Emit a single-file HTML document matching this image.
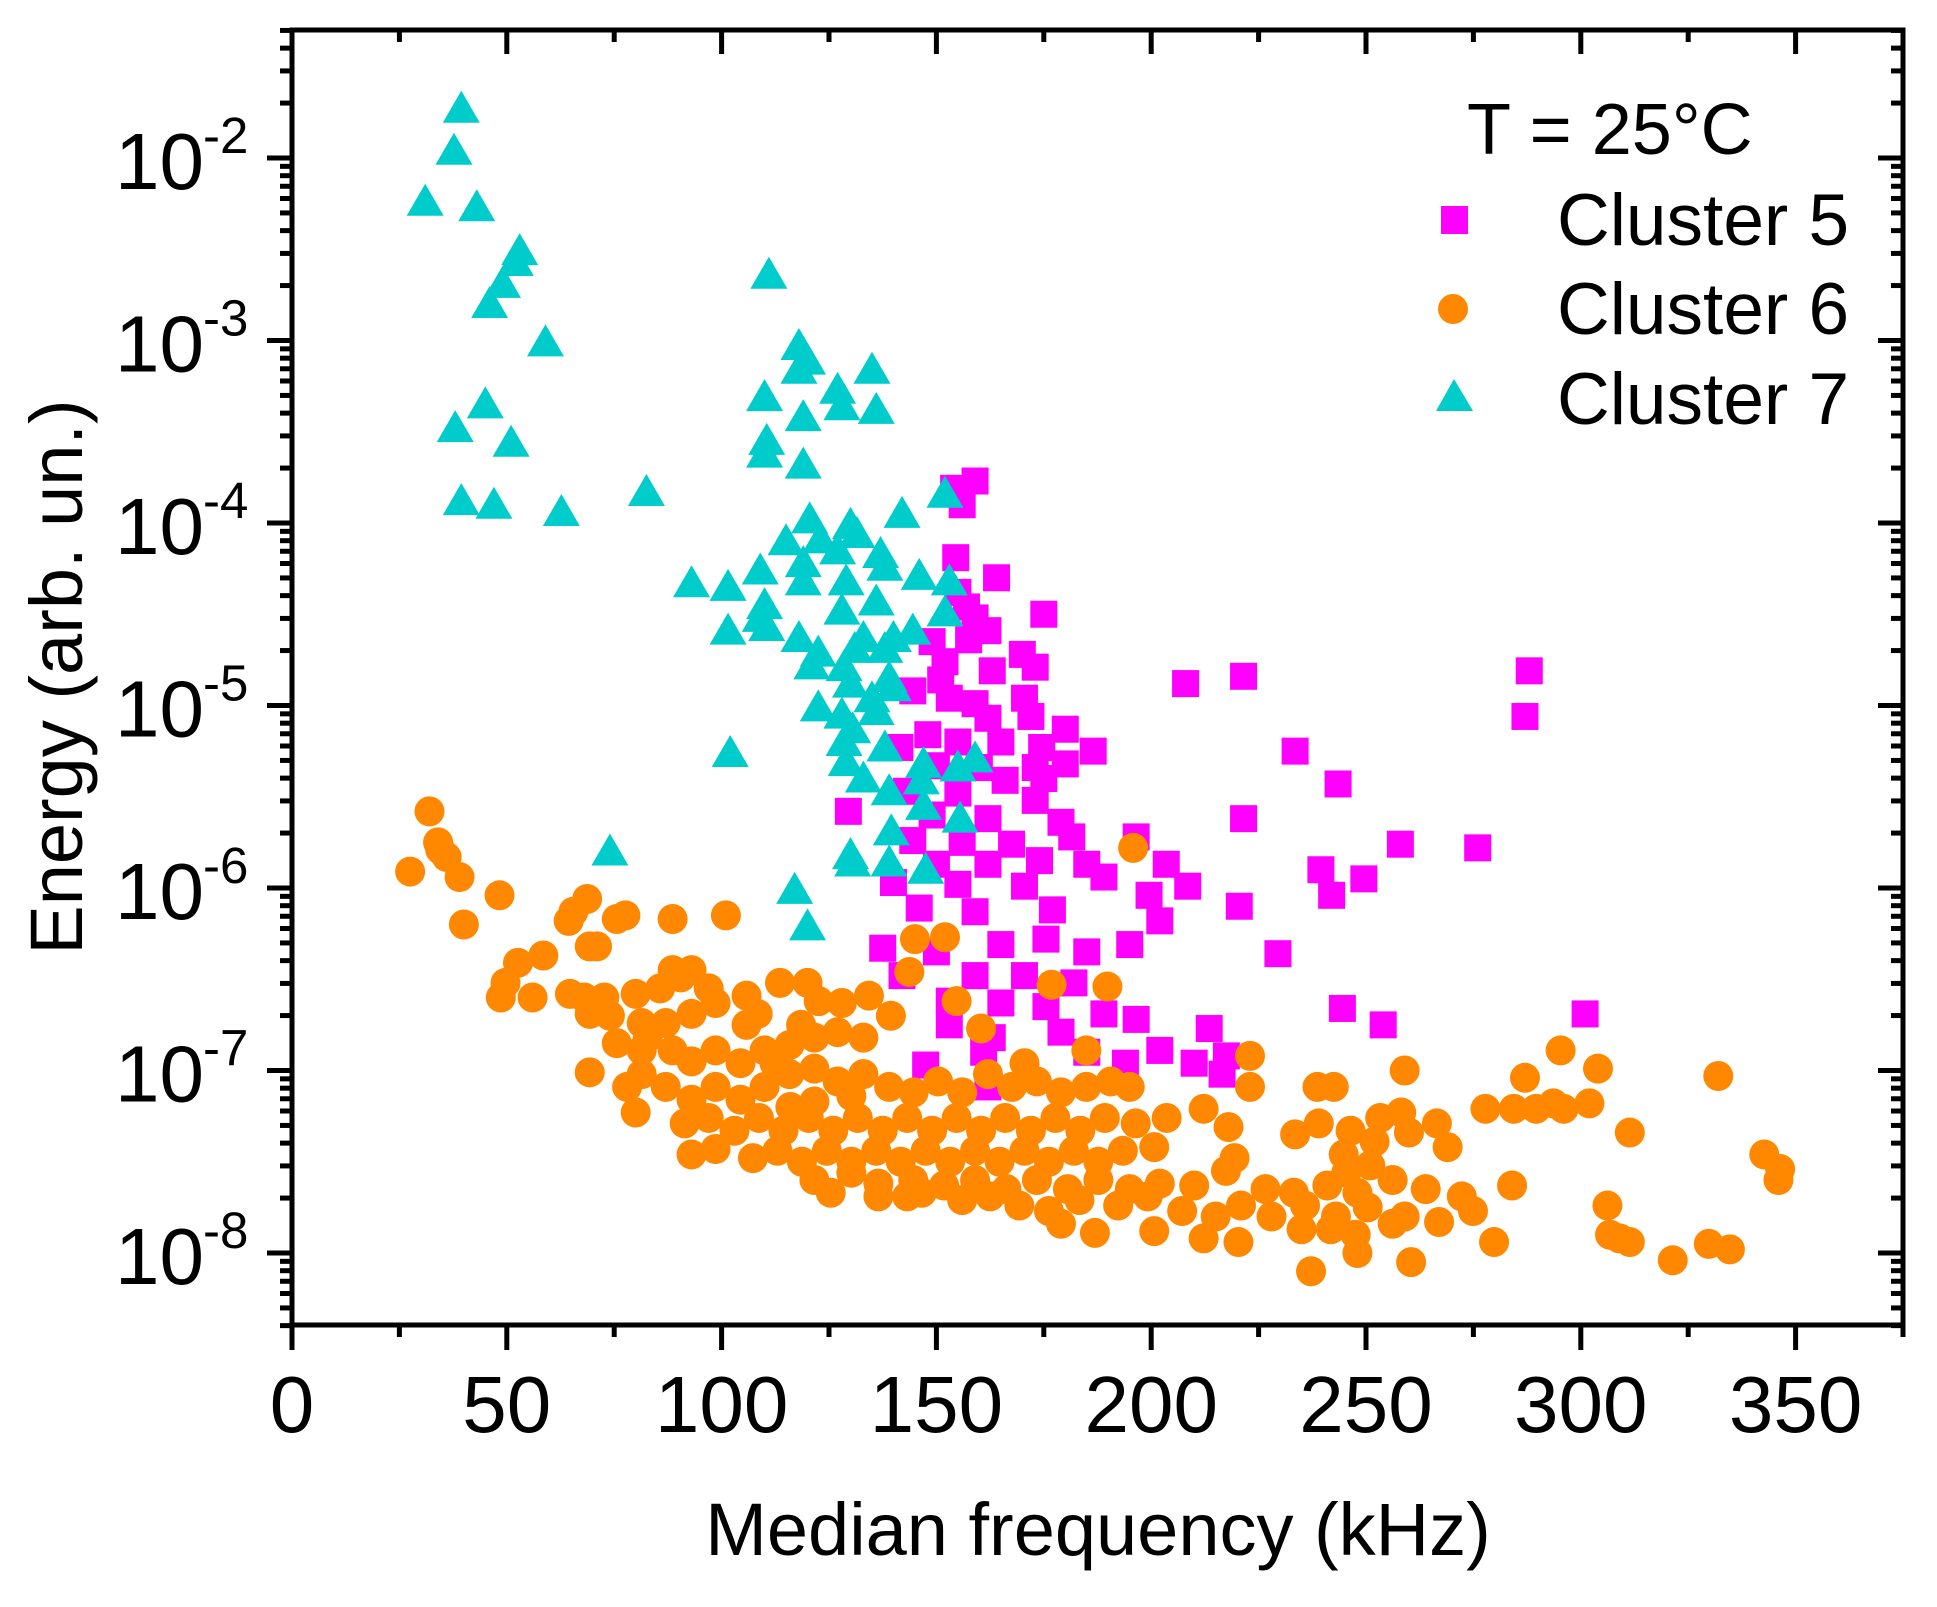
<!DOCTYPE html>
<html><head><meta charset="utf-8"><style>
html,body{margin:0;padding:0;background:#fff;}
svg{display:block;font-family:"Liberation Sans",Arial,sans-serif;}
</style></head><body>
<svg id="chart" width="1937" height="1607" viewBox="0 0 1937 1607" xmlns="http://www.w3.org/2000/svg">
<rect width="1937" height="1607" fill="#fff"/>
<g id="marks"></g>
<g id="axes"></g>
<text x="1098" y="1555" font-size="74" text-anchor="middle">Median frequency (kHz)</text>
<text transform="translate(82,677) rotate(-90)" font-size="74" text-anchor="middle">Energy (arb. un.)</text>
<g>
<text x="1467" y="154" font-size="72">T = 25°C</text>
<rect x="1441" y="206" width="27" height="28" fill="#ff00ff"/>
<text x="1557" y="245" font-size="73">Cluster 5</text>
<circle cx="1453" cy="309" r="15" fill="#ff8800"/>
<text x="1557" y="334" font-size="73">Cluster 6</text>
<polygon points="1454,379 1473,411 1436,411" fill="#00cccc"/>
<text x="1557" y="424" font-size="73">Cluster 7</text>
</g>
</svg>
<script>
// Data: frequency in kHz, energy as log10(value)
const c5Freq=[159,154,156,154.5,164,155,157,159,175,162,149,157.5,170,152,173,163,151,144.5,153,159,170.5,208,221.5,288,287,172,162,180,148,155,165,174.5,186.5,233.5,141.5,150,160,173,180,166,175,243.5,143,155,173,129.5,149,162,179,221.5,144.5,156,167.5,181.5,196.5,258,276,150,162,174,185,203.5,239.5,140,155,170.5,189,208.5,249.5,199.5,242,146,159,177,220.5,202,195,137.5,150,165,175.5,185,229.5,142,159,170.5,182,153,165,175.5,189,244.5,254,301,213.5,153,163,179,196.5,202,161,185,210,217.5,194,147.5,216.5,162];
const c5LogE=[-3.77,-3.81,-3.90,-4.19,-4.30,-4.38,-4.46,-4.52,-4.50,-4.59,-4.65,-4.64,-4.72,-4.76,-4.79,-4.81,-4.86,-4.92,-4.96,-4.99,-4.96,-4.88,-4.84,-4.81,-5.06,-5.06,-5.07,-5.13,-5.16,-5.20,-5.20,-5.23,-5.25,-5.25,-5.23,-5.33,-5.34,-5.34,-5.32,-5.41,-5.40,-5.43,-5.47,-5.48,-5.52,-5.58,-5.60,-5.62,-5.64,-5.62,-5.74,-5.75,-5.76,-5.72,-5.72,-5.76,-5.78,-5.87,-5.87,-5.85,-5.87,-5.87,-5.90,-5.97,-5.98,-5.99,-5.94,-5.99,-5.95,-6.04,-6.04,-6.11,-6.13,-6.12,-6.10,-6.18,-6.31,-6.33,-6.35,-6.31,-6.28,-6.35,-6.36,-6.48,-6.48,-6.48,-6.52,-6.62,-6.63,-6.65,-6.69,-6.66,-6.75,-6.69,-6.77,-6.75,-6.82,-6.79,-6.72,-6.89,-6.90,-6.90,-6.96,-6.92,-6.96,-6.97,-7.02,-7.09];
const c6Freq=[32,34,34.5,36,27.5,39,40,48.3,68.7,65.5,64.4,77.6,75.6,88.6,101,195.8,145,152,69.3,71,58.5,52.6,49.7,48.6,56,64.7,72.7,80,85.7,88.6,93,90.5,97,105.8,108.4,105.8,98.6,93,87,81.4,74,69.3,68,143.7,154.7,139.4,134.3,128,120,122.6,160.4,176.8,189.8,184.9,170.5,223,259,295.3,287,304,332,69.3,80,78,81.4,88.6,93,98.6,104.4,110,115.8,121.6,127,133,87,93,98.6,104.4,110,115.8,121.6,127,133,139,144.7,150.4,156,162,167.6,173.4,179,184.9,190.6,195,91.4,97,103,108.7,114.4,120.3,126,131.7,137.5,143.2,149,154.7,160.4,166,172,177.7,183.5,189.2,196.4,203.6,212.2,218,223,238.7,242.5,277.8,284.4,289.6,293.6,296,302,258.2,253.3,311.4,233.5,239,246.4,266.5,93,98.6,107.3,113,118.7,124.5,130.2,136,141.7,147.5,153.2,159,164.7,170.5,176.2,182,187.7,193.4,200.7,219.4,244.8,252,260,269,342.7,346.4,346,245.4,251,121.6,130.2,136.5,144.6,151.8,159,166.3,173.4,180.6,187.7,195,202,210,217.4,226.6,233.2,241,248,256.2,263.9,272.3,284,306.2,125.4,136.5,146.6,162.5,169.3,176.2,183.3,192.3,199.2,207.2,215,220.9,228,235.8,243,250.4,259,267,274.9,306.8,241.8,247.6,256.2,179,186.9,200.7,212.2,220.3,235,279.8,311.4,309,329.8,334.7,321.4,260.5,248,237.2,143.2,156,113.6,118.5,112.3,116,121.6,130.2,75.6,81.4,82.8];
const c6LogE=[-5.58,-5.75,-5.79,-5.83,-5.91,-5.94,-6.20,-6.04,-6.06,-6.13,-6.18,-6.15,-6.17,-6.17,-6.15,-5.78,-6.28,-6.27,-6.32,-6.32,-6.37,-6.41,-6.52,-6.60,-6.60,-6.58,-6.60,-6.58,-6.55,-6.45,-6.45,-6.49,-6.55,-6.59,-6.69,-6.75,-6.63,-6.69,-6.74,-6.74,-6.70,-6.69,-6.60,-6.46,-6.62,-6.70,-6.59,-6.63,-6.52,-6.62,-6.77,-6.53,-6.54,-6.89,-6.96,-6.92,-7.00,-6.89,-7.04,-6.99,-7.03,-7.01,-7.23,-7.09,-7.02,-6.89,-6.95,-6.89,-6.96,-6.89,-6.86,-6.82,-6.79,-6.82,-7.09,-7.16,-7.09,-7.16,-7.09,-7.02,-6.99,-7.06,-7.02,-7.09,-7.12,-7.06,-7.12,-7.02,-7.09,-7.06,-7.12,-7.09,-7.06,-7.09,-7.29,-7.26,-7.33,-7.26,-7.33,-7.26,-7.33,-7.26,-7.33,-7.26,-7.33,-7.26,-7.33,-7.26,-7.33,-7.26,-7.33,-7.26,-7.29,-7.26,-7.21,-7.31,-7.09,-7.09,-7.09,-7.21,-7.21,-7.21,-7.18,-7.21,-7.18,-7.23,-7.26,-7.34,-7.35,-7.29,-7.33,-7.29,-7.46,-7.43,-7.48,-7.44,-7.50,-7.44,-7.50,-7.44,-7.50,-7.44,-7.50,-7.44,-7.50,-7.44,-7.50,-7.44,-7.50,-7.44,-7.42,-7.48,-7.46,-7.39,-7.34,-7.42,-7.46,-7.54,-7.60,-7.56,-7.52,-7.60,-7.56,-7.62,-7.60,-7.63,-7.60,-7.65,-7.60,-7.65,-7.60,-7.65,-7.62,-7.63,-7.55,-7.65,-7.67,-7.63,-7.67,-7.60,-7.65,-7.69,-7.63,-7.74,-7.67,-7.69,-7.67,-7.69,-7.74,-7.77,-7.71,-7.74,-7.69,-7.77,-7.80,-7.74,-7.80,-7.74,-7.80,-7.75,-7.80,-7.83,-7.77,-7.90,-7.87,-7.90,-7.84,-7.84,-7.89,-7.88,-7.92,-7.94,-7.87,-7.94,-7.94,-7.92,-7.95,-7.98,-8.04,-8.05,-8.00,-8.10,-7.69,-7.71,-6.52,-6.75,-6.96,-7.20,-7.17,-7.14,-6.85,-6.89,-6.82];
const c7Freq=[39.4,37.7,31,43,53,52,49,46,59,111,118,120,118,135,127,110,128,136,119,45,38,51,110.5,110,119,82.5,39.4,47,62.7,152,142,120.5,130,115,123,131.5,127,137,119,138,109,146,153,93,101.5,119,129,110,136,109,128,152,144.5,101.5,110.5,118,133,140,122.5,131,138,121,128.5,139,130,140,135,122.5,128,136,128.5,130.5,138,102,159,155,129,133,147,146.5,139,147,155.5,139.5,74,130,130.5,139,147.5,117,120];
const c7LogE=[-1.73,-1.96,-2.24,-2.27,-2.51,-2.57,-2.69,-2.80,-3.01,-2.64,-3.03,-3.11,-3.16,-3.16,-3.27,-3.31,-3.36,-3.38,-3.42,-3.35,-3.48,-3.56,-3.55,-3.62,-3.68,-3.83,-3.88,-3.90,-3.94,-3.84,-3.95,-3.98,-4.01,-4.10,-4.09,-4.06,-4.15,-4.17,-4.22,-4.24,-4.26,-4.29,-4.32,-4.33,-4.35,-4.32,-4.32,-4.45,-4.43,-4.52,-4.48,-4.49,-4.59,-4.59,-4.57,-4.63,-4.63,-4.63,-4.71,-4.69,-4.69,-4.78,-4.79,-4.85,-4.88,-4.90,-4.96,-5.01,-5.05,-5.03,-5.20,-5.13,-5.23,-5.26,-5.29,-5.34,-5.31,-5.40,-5.32,-5.41,-5.47,-5.55,-5.62,-5.69,-5.80,-5.82,-5.86,-5.86,-5.90,-6.01,-6.21];
const xTicks=[0,50,100,150,200,250,300,350];
const yDecades=[-2,-3,-4,-5,-6,-7,-8];

const NS="http://www.w3.org/2000/svg";
const L=292,R=1903,T=30,B=1325;
const X0=0,X1=375;
function xs(v){return L+(v-X0)/(X1-X0)*(R-L);}
function ys(lg){return 1253-(lg-(-8))*182.5;}
function mk(tag,attrs,parent){const e=document.createElementNS(NS,tag);for(const k in attrs)e.setAttribute(k,attrs[k]);parent.appendChild(e);return e;}
const marks=document.getElementById('marks');
const axes=document.getElementById('axes');

for(let i=0;i<c5Freq.length;i++){
  const cx=xs(c5Freq[i]),cy=ys(c5LogE[i]);
  const e=mk('rect',{x:cx-13.5,y:cy-13.5,width:27,height:27,fill:'#ff00ff'},marks);
  
  
}
for(let i=0;i<c6Freq.length;i++){
  const e=mk('circle',{cx:xs(c6Freq[i]),cy:ys(c6LogE[i]),r:15,fill:'#ff8800'},marks);
  
  
}
for(let i=0;i<c7Freq.length;i++){
  const cx=xs(c7Freq[i]),cy=ys(c7LogE[i]);
  const e=mk('polygon',{points:`${cx},${cy-18} ${cx+18.5},${cy+14} ${cx-18.5},${cy+14}`,fill:'#00cccc'},marks);
  
  
}

const fr=mk('rect',{x:L,y:T,width:R-L,height:B-T,fill:'none',stroke:'#000','stroke-width':5},axes);



for(let v=0;v<=X1;v+=25){
  const x=xs(v),major=(v%50===0);
  const len=major?25:12;
  mk('line',{x1:x,y1:B,x2:x,y2:B+len,stroke:'#000','stroke-width':5},axes);
  mk('line',{x1:x,y1:T,x2:x,y2:T+(major?24:12),stroke:'#000','stroke-width':5},axes);
}
xTicks.forEach(v=>{
  const t=mk('text',{x:xs(v),y:1432,'font-size':80,'text-anchor':'middle'},axes);
  t.textContent=String(v);
  
  
});
for(let d=-9;d<=-1;d++){
  for(let m=1;m<=9;m++){
    const lg=d+Math.log10(m);
    const y=ys(lg);
    if(y<T-1||y>B+1)continue;
    const major=(m===1);
    const len=major?25:12;
    mk('line',{x1:L-len,y1:y,x2:L,y2:y,stroke:'#000','stroke-width':5},axes);
    mk('line',{x1:R-len,y1:y,x2:R,y2:y,stroke:'#000','stroke-width':5},axes);
  }
}
yDecades.forEach(d=>{
  const y=ys(d);
  const t=mk('text',{x:204,y:y+31,'font-size':80,'text-anchor':'end'},axes);
  t.textContent='10';
  
  
  const s=mk('text',{x:203,y:y-5,'font-size':51,'text-anchor':'start'},axes);
  s.textContent=String(d);
  
  
});
</script>
</body></html>
